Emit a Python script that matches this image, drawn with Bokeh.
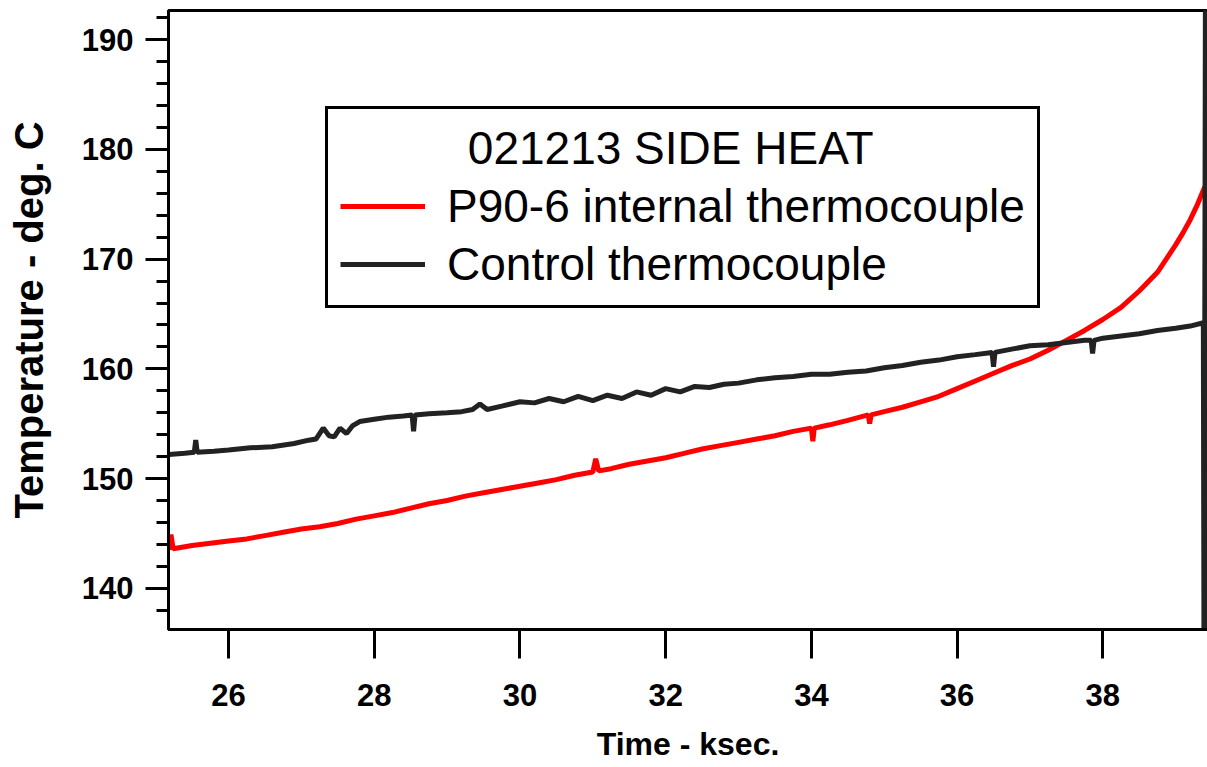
from bokeh.plotting import figure
from bokeh.models import Legend, LegendItem, SingleIntervalTicker
from bokeh.embed import file_html
from bokeh.resources import INLINE

# ---------------- data ----------------
x_ticks_interval = 2
y_ticks_interval = 10

red_t = [25.18, 25.21, 25.24, 25.5, 25.75, 26.0, 26.25, 26.5, 26.75, 27.0,
         27.25, 27.5, 27.75, 28.0, 28.25, 28.5, 28.75, 29.0, 29.25, 29.5,
         29.75, 30.0, 30.25, 30.5, 30.75, 31.0, 31.04, 31.08, 31.25, 31.5,
         31.75, 32.0, 32.25, 32.5, 32.75, 33.0, 33.25, 33.5, 33.75, 34.0,
         34.02, 34.04, 34.25, 34.5, 34.78, 34.8, 34.82, 35.0, 35.25, 35.5,
         35.75, 36.0, 36.25, 36.5, 36.75, 37.0, 37.25, 37.5, 37.75, 38.0,
         38.25, 38.5, 38.75, 39.0, 39.1, 39.2, 39.3, 39.4]
red_v = [143.5, 144.9, 143.6, 143.9, 144.1, 144.3, 144.5, 144.8, 145.1, 145.4,
         145.6, 145.9, 146.3, 146.6, 146.9, 147.3, 147.7, 148.0, 148.4, 148.7,
         149.0, 149.3, 149.6, 149.9, 150.3, 150.6, 151.8, 150.7, 150.9, 151.3,
         151.6, 151.9, 152.3, 152.7, 153.0, 153.3, 153.6, 153.9, 154.3, 154.6,
         153.4, 154.6, 154.9, 155.3, 155.8, 155.0, 155.8, 156.1, 156.5, 157.0,
         157.5, 158.2, 158.9, 159.6, 160.3, 160.9, 161.7, 162.6, 163.5, 164.5,
         165.6, 167.1, 168.8, 171.3, 172.4, 173.6, 175.0, 176.6]

ctrl_t = [25.18, 25.4, 25.53, 25.55, 25.57, 25.8, 26.0, 26.3, 26.6, 26.9,
          27.1, 27.2, 27.3, 27.38, 27.45, 27.53, 27.62, 27.7, 27.8, 28.0,
          28.2, 28.4, 28.52, 28.54, 28.56, 28.75, 29.0, 29.2, 29.35, 29.45,
          29.55, 29.75, 30.0, 30.2, 30.4, 30.6, 30.8, 31.0, 31.2, 31.4,
          31.6, 31.8, 32.0, 32.2, 32.4, 32.6, 32.8, 33.0, 33.25, 33.5,
          33.75, 34.0, 34.25, 34.5, 34.75, 35.0, 35.25, 35.5, 35.75, 36.0,
          36.25, 36.48, 36.5, 36.52, 36.75, 37.0, 37.25, 37.5, 37.75, 37.84,
          37.86, 37.88, 38.0, 38.25, 38.5, 38.75, 39.0, 39.2, 39.38, 39.39,
          39.41, 39.43]
ctrl_v = [152.2, 152.3, 152.4, 153.5, 152.4, 152.5, 152.6, 152.8, 152.9, 153.2,
          153.5, 153.6, 154.6, 153.9, 153.8, 154.6, 154.1, 154.8, 155.2, 155.4,
          155.6, 155.7, 155.8, 154.3, 155.8, 155.9, 156.0, 156.1, 156.3, 156.8,
          156.3, 156.6, 157.0, 156.9, 157.3, 157.0, 157.5, 157.1, 157.6, 157.3,
          157.9, 157.6, 158.2, 157.9, 158.4, 158.3, 158.6, 158.7, 159.0, 159.2,
          159.3, 159.5, 159.5, 159.7, 159.8, 160.1, 160.3, 160.6, 160.8, 161.1,
          161.3, 161.5, 160.2, 161.5, 161.8, 162.1, 162.2, 162.4, 162.6, 162.6,
          161.4, 162.6, 162.8, 163.0, 163.2, 163.5, 163.7, 163.9, 164.2, 130.0,
          200.0, 130.0]

legend_title = "021213 SIDE HEAT"
red_label = "P90-6 internal thermocouple"
ctrl_label = "Control thermocouple"
x_label = "Time - ksec."
y_label = "Temperature - deg. C"

# ---------------- figure ----------------
SANS = "Liberation Sans"

p = figure(width=1207, height=767,
           x_range=(25.176, 39.437), y_range=(136.24, 192.67),
           output_backend="svg", toolbar_location=None,
           min_border_left=168, min_border_right=0,
           min_border_top=10, min_border_bottom=138)
p.grid.visible = False
p.background_fill_color = "white"
p.border_fill_color = "white"
p.outline_line_color = "black"
p.outline_line_width = 3
p.outline_line_alpha = 1.0

r_red = p.line(red_t, red_v, line_color="#ff0000", line_width=5)
r_ctrl = p.line(ctrl_t, ctrl_v, line_color="#222222", line_width=5)

# x axis
xa = p.xaxis[0]
xa.ticker = SingleIntervalTicker(interval=x_ticks_interval, num_minor_ticks=0)
xa.axis_line_width = 3
xa.major_tick_line_width = 3
xa.major_tick_in = 0
xa.major_tick_out = 29
xa.minor_tick_in = 0
xa.minor_tick_out = 0
xa.major_label_standoff = 25
xa.major_label_text_font = SANS
xa.major_label_text_font_style = "bold"
xa.major_label_text_font_size = "31px"
xa.major_label_text_color = "black"
xa.axis_label = x_label
xa.axis_label_text_font = SANS
xa.axis_label_text_font_style = "bold"
xa.axis_label_text_font_size = "32px"
xa.axis_label_standoff = 17
xa.axis_label_text_color = "black"

# y axis
ya = p.yaxis[0]
ya.ticker = SingleIntervalTicker(interval=y_ticks_interval, num_minor_ticks=5)
ya.axis_line_width = 3
ya.major_tick_line_width = 3
ya.minor_tick_line_width = 3
ya.major_tick_in = 0
ya.major_tick_out = 23
ya.minor_tick_in = 0
ya.minor_tick_out = 12
ya.major_label_standoff = 12
ya.major_label_text_font = SANS
ya.major_label_text_font_style = "bold"
ya.major_label_text_font_size = "31px"
ya.major_label_text_color = "black"
ya.axis_label = y_label
ya.axis_label_text_font = SANS
ya.axis_label_text_font_style = "bold"
ya.axis_label_text_font_size = "40px"
ya.axis_label_standoff = 28
ya.axis_label_text_color = "black"

# legend
nbsp = "\u00a0" * 10
legend = Legend(items=[LegendItem(label=red_label, renderers=[r_red]),
                       LegendItem(label=ctrl_label, renderers=[r_ctrl])],
                location=(157, 321),
                title=nbsp + legend_title)
legend.title_text_font = SANS
legend.title_text_font_size = "46px"
legend.title_text_font_style = "normal"
legend.title_text_color = "black"
legend.title_standoff = 2
legend.label_text_font = SANS
legend.label_text_font_size = "46px"
legend.label_text_color = "black"
legend.label_height = 58
legend.glyph_height = 58
legend.border_line_color = "black"
legend.border_line_width = 3
legend.border_line_alpha = 1.0
legend.background_fill_color = "white"
legend.background_fill_alpha = 1.0
legend.padding = 12
legend.spacing = 0
legend.margin = 0
legend.glyph_width = 85
legend.label_standoff = 22
p.add_layout(legend)

open("out.html", "w").write(file_html(p, INLINE))
